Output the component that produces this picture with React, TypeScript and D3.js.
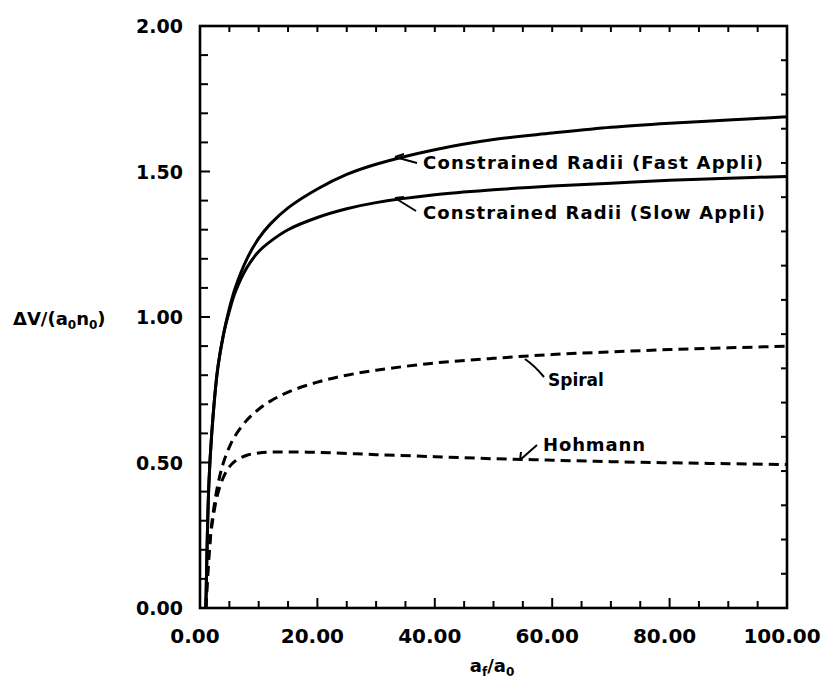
import React from "react";
import * as d3 from "d3";

// Ratio of final to initial orbit radius
const ratios = [1, 1.5, 2, 3, 4, 5, 6, 8, 10, 12, 15, 20, 25, 30, 40, 50, 60, 70, 80, 90, 100];

// Normalised velocity change for each transfer strategy
const fastAppli = [0, 0.42, 0.6, 0.82, 0.94, 1.03, 1.1, 1.2, 1.27, 1.32, 1.375, 1.44, 1.49, 1.525, 1.575, 1.61, 1.632, 1.652, 1.666, 1.677, 1.688];
const slowAppli = [0, 0.42, 0.6, 0.82, 0.94, 1.02, 1.085, 1.17, 1.225, 1.26, 1.3, 1.342, 1.372, 1.393, 1.42, 1.437, 1.45, 1.46, 1.47, 1.477, 1.483];
const spiral = [0, 0.18, 0.29, 0.42, 0.5, 0.553, 0.592, 0.646, 0.683, 0.711, 0.742, 0.776, 0.8, 0.817, 0.842, 0.858, 0.871, 0.88, 0.888, 0.894, 0.9];
const hohmann = [0, 0.17, 0.28, 0.39, 0.45, 0.485, 0.505, 0.525, 0.533, 0.536, 0.536, 0.535, 0.531, 0.527, 0.52, 0.513, 0.508, 0.503, 0.499, 0.496, 0.493];

const xMajorTicks = [0, 20, 40, 60, 80, 100];
const yMajorTicks = [0, 0.5, 1.0, 1.5, 2.0];

const FONT = "'DejaVu Sans', sans-serif";

export default function App() {
  const W = 821;
  const H = 679;
  const left = 200;
  const right = 787;
  const top = 26;
  const bottom = 608;

  const x = d3.scaleLinear().domain([0, 100]).range([left, right]);
  const y = d3.scaleLinear().domain([0, 2]).range([bottom, top]);

  const line = d3
    .line<number>()
    .x((_, i) => x(ratios[i]))
    .y((d) => y(d))
    .curve(d3.curveCatmullRom.alpha(0.5));

  const xMinor = d3.range(0, 100.001, 5);
  const yMinor = d3.range(0, 2.0001, 0.1);
  const yRight = d3.range(0, 17.5, 1).map((k) => (2 * k) / 17);

  const isMajorX = (v: number) => Math.abs(v % 20) < 1e-6;
  const isMajorY = (v: number) => Math.round(v * 10) % 5 === 0;

  return (
    <svg
      width={W}
      height={H}
      style={{ position: "absolute", left: 0, top: 0, background: "#fff" }}
      fontFamily={FONT}
    >
      <rect width={W} height={H} fill="#fff" />

      {/* frame */}
      <rect
        x={left}
        y={top}
        width={right - left}
        height={bottom - top}
        fill="none"
        stroke="#000"
        strokeWidth={2.6}
      />

      {/* bottom and top ticks */}
      {xMinor.map((v) => (
        <g key={"xt" + v}>
          <line x1={x(v)} x2={x(v)} y1={bottom} y2={bottom - (isMajorX(v) ? 10 : 7)} stroke="#000" strokeWidth={2} />
          <line x1={x(v)} x2={x(v)} y1={top} y2={top + 6} stroke="#000" strokeWidth={2} />
        </g>
      ))}

      {/* left ticks */}
      {yMinor.map((v) => (
        <line
          key={"yt" + v}
          x1={left}
          x2={left + (isMajorY(v) ? 10 : 8)}
          y1={y(v)}
          y2={y(v)}
          stroke="#000"
          strokeWidth={2}
        />
      ))}

      {/* right ticks */}
      {yRight.map((v, i) => (
        <line key={"yr" + i} x1={right} x2={right - 6} y1={y(v)} y2={y(v)} stroke="#000" strokeWidth={2} />
      ))}

      {/* x tick labels */}
      {xMajorTicks.map((v) => (
        <text
          key={"xl" + v}
          x={x(v) - 5}
          y={643}
          textAnchor="middle"
          fontSize={20}
          fontWeight="bold"
        >
          {v.toFixed(2)}
        </text>
      ))}

      {/* y tick labels */}
      {yMajorTicks.map((v) => (
        <text
          key={"yl" + v}
          x={183}
          y={y(v) + 7}
          textAnchor="end"
          fontSize={19}
          fontWeight="bold"
        >
          {v.toFixed(2)}
        </text>
      ))}

      {/* axis titles */}
      <text x={13} y={325} fontSize={18} fontWeight="bold">
        ΔV/(a
        <tspan fontSize={12} dy={4}>0</tspan>
        <tspan dy={-4}>n</tspan>
        <tspan fontSize={12} dy={4}>0</tspan>
        <tspan dy={-4}>)</tspan>
      </text>
      <text x={492} y={672} fontSize={18} fontWeight="bold" textAnchor="middle">
        a
        <tspan fontSize={12} dy={4}>f</tspan>
        <tspan dy={-4}>/a</tspan>
        <tspan fontSize={12} dy={4}>0</tspan>
      </text>

      {/* curves */}
      <path d={line(fastAppli) ?? ""} fill="none" stroke="#000" strokeWidth={3} strokeLinejoin="round" />
      <path d={line(slowAppli) ?? ""} fill="none" stroke="#000" strokeWidth={3} strokeLinejoin="round" />
      <path d={line(spiral) ?? ""} fill="none" stroke="#000" strokeWidth={3} strokeDasharray="10,6" />
      <path d={line(hohmann) ?? ""} fill="none" stroke="#000" strokeWidth={3} strokeDasharray="10,6" />

      {/* curve annotations */}
      <g stroke="#000" strokeWidth={2} fill="none">
        <path d="M395,157 L417,163 M395,157 L404,154" />
        <path d="M395,198 L416,211 M395,198 L404,197" />
        <path d="M525,359 Q535,366 544,377" />
        <path d="M520,460 L537,445 M520,460 L521,452" />
      </g>
      <text x={423} y={169} fontSize={18} fontWeight="bold" textLength={340} lengthAdjust="spacing">
        Constrained Radii (Fast Appli)
      </text>
      <text x={423} y={219} fontSize={18} fontWeight="bold" textLength={342} lengthAdjust="spacing">
        Constrained Radii (Slow Appli)
      </text>
      <text x={548} y={386} fontSize={17} fontWeight="bold">
        Spiral
      </text>
      <text x={543} y={451} fontSize={18} fontWeight="bold" textLength={102} lengthAdjust="spacing">
        Hohmann
      </text>
    </svg>
  );
}
